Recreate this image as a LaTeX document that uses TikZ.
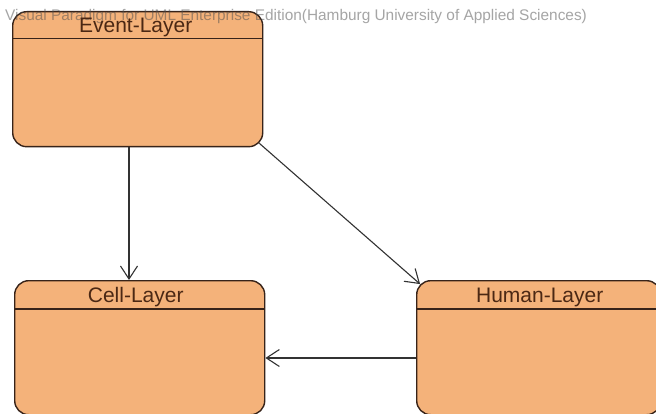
\documentclass[tikz,border=0pt]{standalone}
\usepackage{fontspec}
\setmainfont{Liberation Sans}
\usetikzlibrary{arrows.meta,calc}
\definecolor{layerfill}{RGB}{244,178,122}
\definecolor{layerline}{RGB}{55,35,25}
\definecolor{layertext}{RGB}{75,40,20}
\definecolor{wire}{RGB}{50,50,50}
\begin{document}
\begin{tikzpicture}[x=1pt,y=-1pt,
  layer/.style={draw=layerline,line width=1.4pt,fill=layerfill,
    rounded corners=14pt,inner sep=0pt,anchor=north west},
  layertitle/.style={text=layertext,font=\fontsize{21}{21}\selectfont,
    inner sep=0pt,anchor=base},
  divider/.style={draw=layerline,line width=1.2pt},
  link/.style={draw=wire,line width=1.1pt,
    -{Straight Barb[length=13pt,width=17pt,line width=1.1pt]}},
  watermark/.style={text=black!70,text opacity=0.5,
    font=\fontsize{15.4}{16}\selectfont,inner sep=0pt,anchor=base west}]
  \useasboundingbox (0,0) rectangle (656,414);
  \fill[white] (0,0) rectangle (656,414);
  \clip (0,0) rectangle (656,414);

  % state boxes
  \node[layer,minimum width=250pt,minimum height=135pt] (event) at (12,11) {};
  \node[layer,minimum width=250pt,minimum height=134pt] (cell) at (14,280) {};
  \node[layer,minimum width=244pt,minimum height=134pt] (human) at (416,280) {};

  % compartment lines under the names
  \draw[divider] ($(event.north west)+(0,-27.5pt)$) -- ($(event.north east)+(0,-27.5pt)$);
  \draw[divider] ($(cell.north west)+(0,-29pt)$) -- ($(cell.north east)+(0,-29pt)$);
  \draw[divider] ($(human.north west)+(0,-29pt)$) -- ($(human.north east)+(0,-29pt)$);

  % edition banner
  \node[watermark] (banner) at (5,20.5)
    {Visual Paradigm for UML Enterprise Edition(Hamburg University of Applied Sciences)};

  % state names
  \node[layertitle] (eventtitle) at ($(event.north)+(-2pt,-22pt)$) {Event-Layer};
  \node[layertitle] (celltitle) at ($(cell.north)+(-4pt,-22pt)$) {Cell-Layer};
  \node[layertitle] (humantitle) at ($(human.north)+(1pt,-22pt)$) {Human-Layer};

  % transitions
  \coordinate (vx) at (129,0);
  \coordinate (hy) at (0,358);
  \draw[link] (event.south -| vx) -- (cell.north -| vx);
  \draw[link] ($(event.south east)+(-4.1pt,4.1pt)$) -- ($(human.north west)+(4.1pt,-4.1pt)$);
  \draw[link] (human.west |- hy) -- (cell.east |- hy);
\end{tikzpicture}
\end{document}
